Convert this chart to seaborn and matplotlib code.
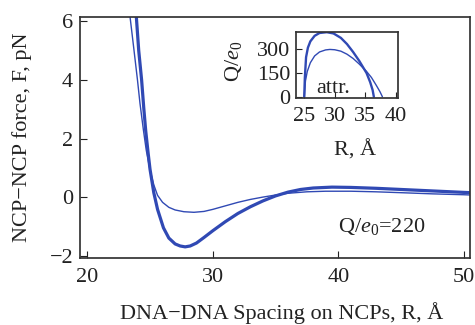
import numpy as np
import pandas as pd
import matplotlib
matplotlib.use("Agg")
import matplotlib.pyplot as plt
import seaborn as sns

# ---- data ----
thick_R = [23.75, 23.91, 24.1, 24.33, 24.5, 24.66, 24.85, 25.0, 25.3, 25.6, 26.07, 26.5,
           27.0, 27.4, 27.8, 28.2, 28.7, 29.3, 30.0, 31.0, 32.0, 33.0, 34.0, 35.0, 36.0,
           37.0, 38.0, 39.5, 41.0, 43.0, 45.0, 47.5, 50.0, 50.6]
thick_F = [7.0, 6.15, 5.0, 4.0, 3.05, 2.25, 1.5, 0.95, 0.15, -0.42, -1.05, -1.4,
           -1.6, -1.67, -1.70, -1.67, -1.57, -1.38, -1.15, -0.84, -0.56, -0.33, -0.13, 0.04, 0.17,
           0.26, 0.31, 0.34, 0.33, 0.30, 0.26, 0.21, 0.16, 0.15]

thin_R = [23.3, 23.41, 23.7, 24.0, 24.2, 24.47, 24.7, 25.0, 25.3, 25.6, 26.0, 26.5,
          27.0, 27.7, 28.5, 29.3, 30.0, 31.0, 32.0, 33.0, 34.0, 35.0, 36.0, 37.5,
          39.0, 41.0, 43.0, 45.0, 47.5, 50.0, 50.6]
thin_F = [6.8, 6.15, 5.1, 4.0, 3.2, 2.3, 1.6, 0.92, 0.42, 0.06, -0.18, -0.35,
          -0.44, -0.5, -0.52, -0.49, -0.42, -0.3, -0.18, -0.08, 0.0, 0.07, 0.13, 0.18,
          0.2, 0.2, 0.18, 0.15, 0.11, 0.08, 0.07]

ins_thick_R = [25.0, 25.1, 25.3, 25.6, 26.0, 26.7, 27.5, 28.7, 29.8, 31.0, 32.0, 33.0,
               34.0, 35.2, 35.8, 36.2, 36.4]
ins_thick_Q = [0, 120, 250, 310, 350, 385, 403, 408, 400, 372, 333, 283,
               227, 150, 92, 42, 0]
ins_thin_R = [25.0, 25.2, 25.5, 26.0, 26.7, 27.5, 28.5, 29.2, 30.0, 31.0, 32.0, 33.0,
              34.0, 35.2, 36.0, 36.8, 37.4, 37.8]
ins_thin_Q = [0, 100, 160, 215, 258, 283, 296, 299, 297, 288, 269, 242,
              207, 160, 122, 72, 32, 0]

x_ticks = [20, 30, 40, 50]
y_ticks = [-2, 0, 2, 4, 6]
ins_x_ticks = [25, 30, 35, 40]
ins_y_ticks = [0, 150, 300]

# ---- style ----
sns.set_theme(style="ticks")
plt.rcParams["font.family"] = ["Liberation Serif", "DejaVu Serif"]
plt.rcParams["mathtext.fontset"] = "custom"
plt.rcParams["mathtext.rm"] = "Liberation Serif"
plt.rcParams["mathtext.it"] = "Liberation Serif:italic"
plt.rcParams["axes.edgecolor"] = "#333333"

BLUE = "#3049b4"
TXT = "#222222"
FS = 16

fig = plt.figure(figsize=(4.75, 3.25), dpi=100)
ax = fig.add_axes([0.1684, 0.2062, 0.822, 0.7415])

main = pd.concat([
    pd.DataFrame({"R": thick_R, "F": thick_F, "curve": "thick"}),
    pd.DataFrame({"R": thin_R, "F": thin_F, "curve": "thin"}),
])
sns.lineplot(data=main, x="R", y="F", hue="curve", size="curve",
             sizes={"thick": 2.3, "thin": 1.0},
             palette={"thick": BLUE, "thin": BLUE},
             sort=False, estimator=None, legend=False, ax=ax)
ax.set_xlim(19.42, 50.53)
ax.set_ylim(-2.08, 6.15)
ax.set_xticks(x_ticks)
ax.set_yticks(y_ticks)
ax.set_yticklabels(["\u22122", "0", "2", "4", "6"])
ax.tick_params(direction="in", length=5, width=0.8, labelsize=FS, colors=TXT)
ax.tick_params(axis="x", pad=7)
ax.tick_params(axis="y", pad=5)
ax.set_xlabel("DNA\u2212DNA Spacing on NCPs, R, \u00c5", fontsize=FS, color=TXT)
ax.set_ylabel("NCP\u2212NCP force, F, pN", fontsize=FS, color=TXT)
ax.xaxis.set_label_coords(0.517, -0.183)
ax.yaxis.set_label_coords(-0.122, 0.5)
ax.text(43.5, -1.0, "Q/$e_0$=220", fontsize=FS, ha="center", va="center", color=TXT)

# ---- inset ----
ins = fig.add_axes([0.6225, 0.6994, 0.2147, 0.203])
inset = pd.concat([
    pd.DataFrame({"R": ins_thick_R, "Q": ins_thick_Q, "curve": "thick"}),
    pd.DataFrame({"R": ins_thin_R, "Q": ins_thin_Q, "curve": "thin"}),
])
sns.lineplot(data=inset, x="R", y="Q", hue="curve", size="curve",
             sizes={"thick": 1.7, "thin": 1.0},
             palette={"thick": BLUE, "thin": BLUE},
             sort=False, estimator=None, legend=False, ax=ins)
ins.set_xlim(23.6, 40.3)
ins.set_ylim(-6, 411)
ins.set_xticks(ins_x_ticks)
ins.set_yticks(ins_y_ticks)
ins.tick_params(direction="in", length=4, width=0.8, labelsize=FS, colors=TXT)
ins.tick_params(axis="x", pad=7)
ins.tick_params(axis="y", pad=4)
ins.set_xlabel("R, \u00c5", fontsize=FS, color=TXT)
ins.set_ylabel("Q/$e_0$", fontsize=FS, color=TXT)
ins.xaxis.set_label_coords(0.58, -0.65)
ins.yaxis.set_label_coords(-0.51, 0.55)
ins.text(29.8, 55, "attr.", fontsize=FS, ha="center", va="center", color=TXT)

fig.savefig("out.png", dpi=100)
